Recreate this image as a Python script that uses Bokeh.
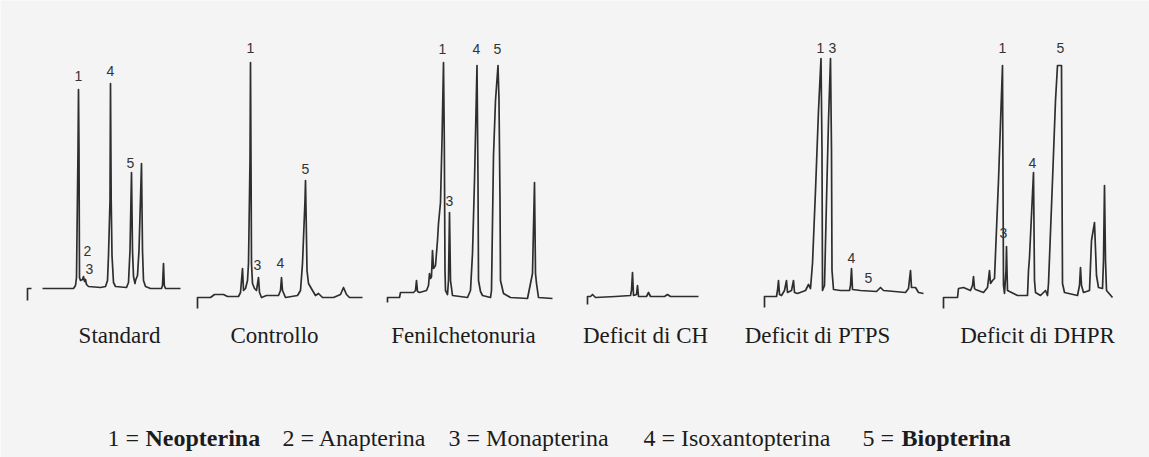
from bokeh.plotting import figure
from bokeh.models import Range1d
from bokeh.core.properties import value
from bokeh.embed import file_html
from bokeh.resources import INLINE

NaN = float("nan")

# ---------------- data (time in min, signal in mV above baseline) ----------------
panel_names = ["Standard", "Controllo", "Fenilchetonuria",
               "Deficit di CH", "Deficit di PTPS", "Deficit di DHPR"]

std_t = [-1.5, -1.5, -1.1, NaN, 0, 3.1, 3.3, 3.4, 3.55, 3.6, 3.65, 3.7, 3.8,
         4.0, 4.1, 4.2, 4.3, 4.4, 4.6, 5.8, 6.3, 6.5, 6.6, 6.75, 6.8, 6.87, 6.95, 7.1, 7.3,
         8.4, 8.6, 8.75, 8.9, 9.0, 9.1, 9.25, 9.3, 9.5, 9.65, 9.9, 10.0, 10.1, 10.3, 10.8,
         11.9, 12.0, 12.1, 12.18, 12.3, 13.8]
std_s = [-12, 0, 0, NaN, 0, 0, 3, 11, 138, 199, 138, 11, 8,
         9, 12, 7, 9, 4, 2, 1, 2, 8, 33, 88, 205, 88, 33, 6, 2,
         1, 6, 38, 116, 38, 12, 5, 8, 13, 38, 125, 38, 8, 2, 0,
         0, 3, 25, 3, 0, 0]
std_lbl = ["1", "2", "3", "4", "5"]
std_lbl_t = [3.6, 4.5, 4.7, 6.8, 8.8]
std_lbl_s = [213, 38, 20, 218, 126]

ctl_t = [0, 0, 1.3, 1.7, 2.6, 3.0, 4.1, 4.3, 4.5, 4.6, 4.8, 5.0, 5.1, 5.25, 5.3, 5.35, 5.4,
         5.5, 5.7, 5.9, 6.1, 6.2, 6.4, 6.9, 8.1, 8.3, 8.4, 8.5, 8.8, 10.0, 10.3, 10.5, 10.75,
         10.8, 10.87, 10.95, 11.1, 11.5, 11.8, 12.1, 12.5, 13.6, 14.3, 14.6, 14.9, 15.2, 16.5]
ctl_s = [-11, 0, 0, 3, 3, 1, 1, 5, 29, 7, 9, 17, 34, 137, 235, 137, 34,
         14, 9, 7, 20, 5, 0, 2, 2, 7, 20, 7, 0, 2, 7, 34, 97,
         117, 77, 27, 14, 7, 2, 4, 0, 0, 3, 10, 3, 0, 0]
ctl_lbl = ["1", "3", "4", "5"]
ctl_lbl_t = [5.3, 6.0, 8.3, 10.8]
ctl_lbl_s = [250, 33, 35, 129]

fen_t = [0, 0, 1.2, 1.3, 2.6, 2.8, 2.9, 3.0, 3.2, 3.9, 4.1, 4.2, 4.3, 4.4, 4.5, 4.6, 4.8,
         5.0, 5.1, 5.3, 5.45, 5.6, 5.68, 5.75, 5.8, 6.0, 6.1, 6.2, 6.3, 6.5, 8.0, 8.3, 8.5,
         8.7, 8.95, 9.05, 9.1, 9.3, 9.5, 10.3, 10.4, 10.6, 10.8, 11.05, 11.15, 11.25, 11.3,
         11.6, 12.3, 14.0, 14.3, 14.5, 14.7, 14.8, 14.9, 15.1, 16.5]
fen_s = [-5, 0, 0, 5, 5, 7, 17, 6, 5, 7, 12, 24, 19, 21, 47, 29, 32,
         57, 74, 95, 157, 235, 157, 27, 7, 3, 17, 85, 17, 2, 0, 7, 44,
         117, 232, 117, 17, 6, 2, 0, 7, 142, 197, 232, 197, 97, 17,
         4, 0, -1, 14, 24, 115, 24, 14, 0, -1]
fen_lbl = ["1", "3", "4", "5"]
fen_lbl_t = [5.5, 6.2, 8.9, 11.0]
fen_lbl_s = [249, 97, 249, 249]

ch_t = [0, 0, 0.3, 0.5, 0.8, 2.8, 4.3, 4.4, 4.5, 4.6, 4.9, 5.0, 5.1, 5.9, 6.1, 6.3, 7.7, 8.0, 8.3, 11.1]
ch_s = [-7, 1, 1, 3, 0, 1, 2, 7, 25, 2, 3, 12, 1, 1, 5, 1, 1, 3, 1, 1]
ch_lbl = []
ch_lbl_t = []
ch_lbl_s = []

pt_t = [0, 0, 1.2, 1.3, 1.4, 1.5, 1.7, 2.0, 2.2, 2.3, 2.7, 2.9, 3.0, 3.3, 4.1, 4.4, 4.6, 4.8,
        5.1, 5.4, 5.65, 5.75, 5.8, 6.0, 6.2, 6.4, 6.6, 6.7, 6.75, 6.9, 7.6, 8.5, 8.6, 8.7, 8.8,
        9.6, 11.2, 11.6, 11.9, 14.1, 14.4, 14.6, 14.7, 15.1, 15.4, 15.9]
pt_s = [-10, 1, 1, 7, 17, 3, 2, 7, 17, 5, 7, 17, 5, 4, 7, 13, 9, 34,
        107, 187, 239, 147, 7, 12, 97, 177, 239, 147, 27, 8, 7, 7, 12, 29, 8,
        7, 6, 10, 7, 5, 9, 27, 10, 10, 5, 4]
pt_lbl = ["1", "3", "4", "5"]
pt_lbl_t = [5.6, 6.8, 8.7, 10.4]
pt_lbl_s = [250, 250, 40, 20]

dh_t = [0, 0, 1.4, 1.5, 2.0, 2.7, 2.9, 3.0, 3.1, 3.2, 4.0, 4.4, 4.6, 4.7, 4.9, 5.1, 5.5, 5.9,
        5.95, 6.0, 6.1, 6.25, 6.3, 6.35, 6.4, 7.4, 8.4, 8.5, 8.6, 9.0, 9.1, 9.2, 9.7, 10.2,
        10.4, 10.5, 10.9, 11.2, 11.4, 11.8, 11.85, 11.9, 12.1, 13.4, 13.6, 13.7, 13.8, 14.0,
        14.6, 14.8, 15.1, 15.3, 15.5, 15.9, 16.0, 16.1, 16.2, 16.3, 16.9]
dh_s = [-11, 0, 0, 9, 10, 7, 12, 21, 9, 8, 5, 10, 27, 14, 17, 19, 117, 232,
        117, 12, 4, 27, 51, 27, 7, 2, 2, 27, 40, 125, 17, 5, 2, 7,
        2, 14, 117, 197, 232, 232, 117, 14, 5, 2, 12, 30, 12, 5,
        7, 57, 75, 22, 10, 9, 37, 112, 37, 7, 0]
dh_lbl = ["1", "3", "4", "5"]
dh_lbl_t = [5.9, 6.0, 8.9, 11.7]
dh_lbl_s = [250, 65, 135, 250]

legend_nums = ["1", "2", "3", "4", "5"]
legend_names = ["Neopterina", "Anapterina", "Monapterina", "Isoxantopterina", "Biopterina"]
legend_bold = [True, False, False, False, True]

traces = [(std_t, std_s, std_lbl, std_lbl_t, std_lbl_s),
          (ctl_t, ctl_s, ctl_lbl, ctl_lbl_t, ctl_lbl_s),
          (fen_t, fen_s, fen_lbl, fen_lbl_t, fen_lbl_s),
          (ch_t, ch_s, ch_lbl, ch_lbl_t, ch_lbl_s),
          (pt_t, pt_s, pt_lbl, pt_lbl_t, pt_lbl_s),
          (dh_t, dh_s, dh_lbl, dh_lbl_t, dh_lbl_s)]

# ---------------- layout / style ----------------
BG = "#f4f4f4"
INK = "#2e2e2e"
TEXT = "#1c1c1c"
W, H = 1149, 457
trace_origin = [42, 197, 387, 587, 764, 943]     # page px where t = 0
baseline_px = [288, 297, 297, 297, 297, 297]      # page px where signal = 0
label_cx = [119, 274, 463, 645, 817, 1037]
label_mid_y = 335
legend_mid_y = 437
PX_PER_MIN = 10.0
PX_PER_MV = 1.0
SERIF = value("Liberation Serif")

# default ranges = page pixels (y downward); each panel gets its own time/signal ranges
p = figure(width=W, height=H, x_range=Range1d(0, W), y_range=Range1d(H, 0),
           output_backend="svg", toolbar_location=None,
           x_axis_type=None, y_axis_type=None, min_border=0,
           background_fill_color=BG, border_fill_color=BG, outline_line_color=None)
p.grid.visible = False

for i, (t, s, lbl, lt, ls) in enumerate(traces):
    o = trace_origin[i]
    b = baseline_px[i]
    name = "panel%d" % i
    p.extra_x_ranges[name] = Range1d((0 - o) / PX_PER_MIN, (W - o) / PX_PER_MIN)
    p.extra_y_ranges[name] = Range1d((b - H) / PX_PER_MV, (b - 0) / PX_PER_MV)
    p.line(t, s, line_color=INK, line_width=1.7, line_join="round",
           x_range_name=name, y_range_name=name)
    if lbl:
        p.text(x=lt, y=ls, text=lbl, text_font=value("Liberation Sans"),
               text_font_size="14px", text_align="center", text_baseline="middle",
               text_color="#333333", x_range_name=name, y_range_name=name)
    p.text(x=[label_cx[i]], y=[label_mid_y], text=[panel_names[i]], text_font=SERIF,
           text_font_size="23px", text_align="center", text_baseline="middle",
           text_color=TEXT)

# legend line (page pixels)
num_x = [107, 282, 448, 643, 862]
name_x = [145, 320, 486, 681, 901]
for nx, num, mx, nm, bold in zip(num_x, legend_nums, name_x, legend_names, legend_bold):
    if bold:
        p.text(x=[nx], y=[legend_mid_y], text=[num + " ="], text_font=SERIF,
               text_font_size="24px", text_align="left", text_baseline="middle",
               text_color=TEXT)
        p.text(x=[mx], y=[legend_mid_y], text=[nm], text_font=SERIF,
               text_font_size="24px", text_align="left", text_baseline="middle",
               text_font_style="bold", text_color=TEXT)
    else:
        p.text(x=[nx], y=[legend_mid_y], text=[num + " = " + nm], text_font=SERIF,
               text_font_size="24px", text_align="left", text_baseline="middle",
               text_color=TEXT)

open("out.html", "w").write(file_html(p, INLINE))
